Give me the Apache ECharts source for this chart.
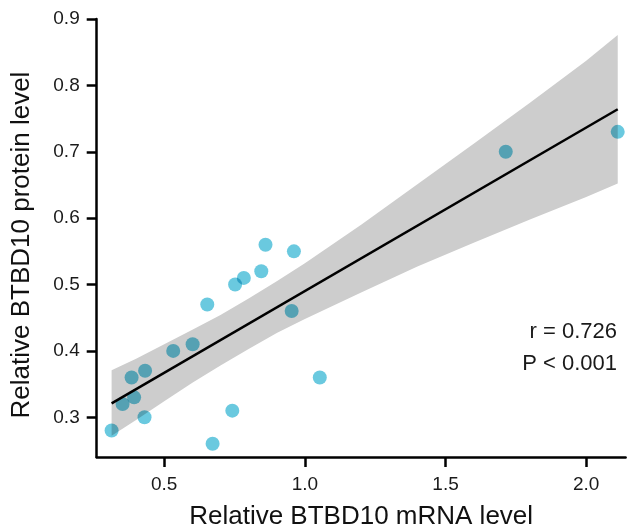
<!DOCTYPE html>
<html>
<head>
    <meta charset="utf-8">
    <script src="https://cdn.jsdelivr.net/npm/echarts@6/dist/echarts.min.js"></script>
    <style>
        html, body { margin: 0; padding: 0; background: #fff; }
        #chart { width: 630px; height: 530px; }
    </style>
</head>
<body>
<div id="chart"></div>
<script type="text/javascript">
    // points
    var mrna = [0.313, 0.352, 0.384, 0.393, 0.432, 0.430, 0.532, 0.601, 0.653, 0.672,
                0.742, 0.752, 0.783, 0.845, 0.860, 0.953, 0.961, 1.053, 1.714, 2.112];
    var protein = [0.28, 0.32, 0.36, 0.33, 0.37, 0.30, 0.40, 0.41, 0.47, 0.26,
                   0.31, 0.50, 0.51, 0.52, 0.56, 0.46, 0.55, 0.36, 0.70, 0.73];

    // fitted line ends + confidence band edges
    var fitX = [0.313, 2.112];
    var fitY = [0.321, 0.764];
    var bandX = [0.313, 0.4, 0.5, 0.6, 0.7, 0.8, 0.9, 1.0, 1.2, 1.4, 1.6, 1.8, 2.0, 2.112];
    var bandLow = [0.272, 0.296, 0.324, 0.352, 0.378, 0.403, 0.427, 0.448, 0.488, 0.527, 0.563, 0.598, 0.632, 0.652];
    var bandHigh = [0.371, 0.388, 0.410, 0.432, 0.454, 0.479, 0.505, 0.532, 0.590, 0.651, 0.712, 0.774, 0.837, 0.876];

    var xTicks = [0.5, 1.0, 1.5, 2.0];
    var yTicks = [0.3, 0.4, 0.5, 0.6, 0.7, 0.8, 0.9];
    var statR = 'r = 0.726';
    var statP = 'P < 0.001';

    var font = '"Liberation Sans", Arial, sans-serif';
    var tickText = { fontSize: 19, color: '#1a1a1a', fontFamily: font };

    var points = mrna.map(function (v, i) { return [v, protein[i]]; });
    var fitLine = fitX.map(function (v, i) { return [v, fitY[i]]; });

    function tickFmt(v) { return '{t|' + v.toFixed(1) + '}'; }

    var chart = echarts.init(document.getElementById('chart'));
    chart.setOption({
        animation: false,
        backgroundColor: '#fff',
        grid: { left: 96.7, right: 4.4, top: 19, bottom: 72.9, containLabel: false, outerBoundsMode: 'none' },
        xAxis: {
            type: 'value',
            min: 0.26,
            max: 2.14,
            splitLine: { show: false },
            axisLine: { lineStyle: { color: '#000', width: 2.5 } },
            axisTick: { customValues: xTicks, length: 10, lineStyle: { color: '#000', width: 2.5 } },
            axisLabel: {
                customValues: xTicks, margin: 18, fontSize: 19, color: '#1a1a1a', fontFamily: font,
                formatter: tickFmt, rich: { t: tickText }
            },
            name: 'Relative BTBD10 mRNA level',
            nameLocation: 'middle',
            nameGap: 47,
            nameTextStyle: { fontSize: 26, color: '#111', fontFamily: font }
        },
        yAxis: {
            type: 'value',
            min: 0.24,
            max: 0.9,
            splitLine: { show: false },
            axisLine: { lineStyle: { color: '#000', width: 2.5 } },
            axisTick: { customValues: yTicks, length: 10, lineStyle: { color: '#000', width: 2.5 } },
            axisLabel: {
                customValues: yTicks, margin: 17, fontSize: 19, color: '#1a1a1a', fontFamily: font,
                formatter: tickFmt, rich: { t: tickText }
            },
            name: 'Relative BTBD10 protein level',
            nameLocation: 'middle',
            nameGap: 62,
            nameTextStyle: { fontSize: 26, color: '#111', fontFamily: font, padding: [0, 14, 0, 0] }
        },
        graphic: [{
            type: 'text',
            right: 13,
            top: 316,
            style: {
                text: statR + '\n' + statP,
                fill: '#1a1a1a',
                font: '22px ' + font,
                textAlign: 'right',
                lineHeight: 32
            }
        }],
        series: [
            {
                type: 'custom',
                silent: true,
                z: 1,
                data: [[bandX[0], bandLow[0]]],
                renderItem: function (params, api) {
                    var pts = [];
                    for (var i = 0; i < bandX.length; i++) pts.push(api.coord([bandX[i], bandHigh[i]]));
                    for (var j = bandX.length - 1; j >= 0; j--) pts.push(api.coord([bandX[j], bandLow[j]]));
                    return { type: 'polygon', shape: { points: pts }, style: { fill: '#cdcdcd' } };
                }
            },
            {
                type: 'line',
                z: 2,
                data: fitLine,
                symbol: 'none',
                silent: true,
                lineStyle: { color: '#000', width: 2.5 }
            },
            {
                type: 'scatter',
                z: 3,
                data: points,
                symbolSize: 14,
                blendMode: 'multiply',
                itemStyle: { color: '#6ac9df', opacity: 1 }
            }
        ]
    });
</script>
</body>
</html>
